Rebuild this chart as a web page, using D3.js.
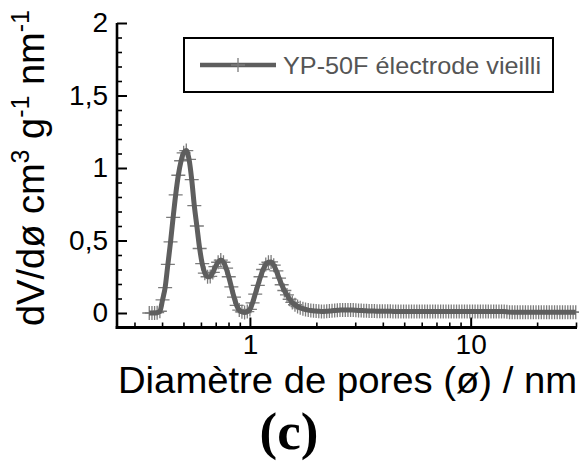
<!DOCTYPE html>
<html>
<head>
<meta charset="utf-8">
<script src="https://cdn.jsdelivr.net/npm/d3@7"></script>
<style>
html,body{margin:0;padding:0;background:#fff;}
svg{display:block;}
</style>
</head>
<body>
<svg id="chart" width="579" height="467"></svg>
<script>
// Pore diameter (nm)
const poreDiameter = [
 0.350,0.360,0.370,0.380,0.391,0.402,0.413,0.425,0.437,0.449,
 0.461,0.474,0.488,0.501,0.515,0.530,0.545,0.560,0.575,0.592,
 0.608,0.625,0.643,0.661,0.679,0.698,0.718,0.738,0.759,0.780,
 0.802,0.824,0.847,0.871,0.895,0.920,0.946,0.973,1.000,1.028,
 1.057,1.086,1.117,1.148,1.180,1.213,1.247,1.282,1.318,1.355,
 1.393,1.432,1.472,1.514,1.556,1.600,1.644,1.690,1.738,1.786,
 1.837,1.888,1.941,1.995,2.051,2.109,2.168,2.228,2.291,2.355,
 2.421,2.489,2.559,2.630,2.704,2.780,2.858,2.938,3.020,3.105,
 3.192,3.281,3.373,3.467,3.565,3.664,3.767,3.873,3.981,4.093,
 4.207,4.325,4.446,4.571,4.699,4.831,4.966,5.105,5.248,5.395,
 5.546,5.702,5.861,6.026,6.194,6.368,6.546,6.730,6.918,7.112,
 7.311,7.516,7.727,7.943,8.166,8.395,8.630,8.872,9.120,9.376,
 9.638,9.908,10.19,10.47,10.77,11.07,11.38,11.70,12.02,12.36,
 12.71,13.06,13.43,13.80,14.19,14.59,15.00,15.42,15.85,16.29,
 16.75,17.22,17.70,18.20,18.71,19.23,19.77,20.32,20.89,21.48,
 22.08,22.70,23.33,23.99,24.66,25.35,26.06,26.79,27.54,28.31,
 29.11,29.92
];
// dV/dø (cm3 g-1 nm-1) — YP-50F électrode vieilli
const dVdD = [
 0.000,0.000,0.000,0.002,0.012,0.090,0.175,0.335,0.490,0.660,
 0.815,0.950,1.050,1.105,1.120,1.060,0.920,0.740,0.600,0.445,
 0.340,0.275,0.250,0.252,0.280,0.320,0.350,0.365,0.350,0.310,
 0.250,0.180,0.110,0.052,0.020,0.008,0.003,0.010,0.025,0.070,
 0.130,0.190,0.250,0.300,0.335,0.350,0.352,0.330,0.290,0.240,
 0.195,0.155,0.125,0.095,0.073,0.057,0.045,0.036,0.029,0.024,
 0.020,0.017,0.015,0.013,0.012,0.011,0.011,0.012,0.013,0.015,
 0.017,0.019,0.020,0.021,0.021,0.021,0.020,0.020,0.019,0.018,
 0.017,0.016,0.015,0.014,0.013,0.013,0.012,0.012,0.012,0.012,
 0.012,0.012,0.011,0.011,0.011,0.011,0.011,0.011,0.011,0.011,
 0.011,0.011,0.011,0.011,0.011,0.011,0.011,0.011,0.011,0.011,
 0.011,0.011,0.011,0.011,0.011,0.011,0.011,0.011,0.011,0.011,
 0.011,0.011,0.011,0.011,0.011,0.011,0.011,0.011,0.011,0.011,
 0.011,0.011,0.011,0.011,0.010,0.008,0.006,0.005,0.005,0.005,
 0.005,0.005,0.005,0.005,0.005,0.005,0.005,0.005,0.005,0.005,
 0.005,0.005,0.005,0.005,0.005,0.005,0.005,0.005,0.005,0.005,
 0.005,0.005
];
const seriesName = "YP-50F électrode vieilli";
const yMajorTicks = [0, 0.5, 1, 1.5, 2];
const yTickLabels = ["0", "0,5", "1", "1,5", "2"];
const xMajorTicks = [1, 10];
const xTickLabels = ["1", "10"];
const xMinorTicks = [0.3,0.4,0.5,0.6,0.7,0.8,0.9,2,3,4,5,6,7,8,9,20,30];
const yMinorTicks = [0.1,0.2,0.3,0.4,0.6,0.7,0.8,0.9,1.1,1.2,1.3,1.4,1.6,1.7,1.8,1.9];

const data = poreDiameter.map((d, i) => ({x: d, y: dVdD[i]}));

const svg = d3.select("#chart");
const mLeft = 117, mRight = 576, mTop = 23, mBottom = 327.5;

const x = d3.scaleLog().domain([0.25, 30]).range([mLeft, mRight]);
const y = d3.scaleLinear().domain([-0.1, 2]).range([mBottom, mTop]);

const FONT = "'Liberation Sans', Arial, sans-serif";

// Y axis
const yMinor = svg.append("g").attr("transform", `translate(${mLeft},0)`)
  .call(d3.axisLeft(y).tickValues(yMinorTicks).tickSize(-5).tickFormat(""));
yMinor.select(".domain").remove();
yMinor.selectAll("line").attr("stroke", "#000").attr("stroke-width", 1.6);

const yMajor = svg.append("g").attr("transform", `translate(${mLeft},0)`)
  .call(d3.axisLeft(y).tickValues(yMajorTicks).tickSize(-10).tickPadding(9)
    .tickFormat((d, i) => yTickLabels[i]));
yMajor.select(".domain").remove();
yMajor.selectAll("line").attr("stroke", "#000").attr("stroke-width", 2);
yMajor.selectAll("text").attr("font-family", FONT).attr("font-size", 28).attr("fill", "#000");

// X axis
const xMinor = svg.append("g").attr("transform", `translate(0,${mBottom})`)
  .call(d3.axisBottom(x).tickValues(xMinorTicks).tickSize(-5).tickFormat(""));
xMinor.select(".domain").remove();
xMinor.selectAll("line").attr("stroke", "#000").attr("stroke-width", 1.6);

const xMajor = svg.append("g").attr("transform", `translate(0,${mBottom})`)
  .call(d3.axisBottom(x).tickValues(xMajorTicks).tickSize(-10).tickPadding(7)
    .tickFormat((d, i) => xTickLabels[i]));
xMajor.select(".domain").remove();
xMajor.selectAll("line").attr("stroke", "#000").attr("stroke-width", 2);
xMajor.selectAll("text").attr("font-family", FONT).attr("font-size", 28).attr("fill", "#000");

// spines
svg.append("line").attr("x1", mLeft).attr("x2", mLeft).attr("y1", mTop).attr("y2", mBottom + 1.5)
  .attr("stroke", "#000").attr("stroke-width", 2.6);
svg.append("line").attr("x1", mLeft - 1.3).attr("x2", mRight + 1).attr("y1", mBottom).attr("y2", mBottom)
  .attr("stroke", "#000").attr("stroke-width", 3);

// markers
const plusPath = "M-7,0H7M0,-7V7";
svg.append("g").selectAll("path").data(data).join("path")
  .attr("d", plusPath)
  .attr("transform", d => `translate(${x(d.x)},${y(d.y)})`)
  .attr("stroke", "#7c7c7c").attr("stroke-width", 1.3).attr("fill", "none");

// line
svg.append("path").datum(data)
  .attr("d", d3.line().x(d => x(d.x)).y(d => y(d.y)).curve(d3.curveMonotoneX))
  .attr("fill", "none").attr("stroke", "#5e5e5e").attr("stroke-width", 5)
  .attr("stroke-linejoin", "round");

// Legend
svg.append("rect").attr("x", 184).attr("y", 38).attr("width", 369).attr("height", 54)
  .attr("fill", "#fff").attr("stroke", "#000").attr("stroke-width", 2);
svg.append("line").attr("x1", 200).attr("x2", 276).attr("y1", 65).attr("y2", 65)
  .attr("stroke", "#5e5e5e").attr("stroke-width", 4.5);
svg.append("path").attr("d", plusPath).attr("transform", "translate(238,65)")
  .attr("stroke", "#7c7c7c").attr("stroke-width", 1.3).attr("fill", "none");
svg.append("text").attr("x", 283).attr("y", 74).text(seriesName)
  .attr("font-family", FONT).attr("font-size", 24).attr("fill", "#555")
  .attr("textLength", 258).attr("lengthAdjust", "spacingAndGlyphs");

// Axis titles
svg.append("text").attr("x", 118).attr("y", 393)
  .attr("font-family", FONT).attr("font-size", 36).attr("fill", "#000")
  .attr("textLength", 459).attr("lengthAdjust", "spacingAndGlyphs")
  .text("Diamètre de pores (ø) / nm");

const yt = svg.append("text").attr("transform", "translate(44,168) rotate(-90)")
  .attr("text-anchor", "middle").attr("font-family", FONT).attr("font-size", 38).attr("fill", "#000");
yt.append("tspan").text("dV/dø cm");
yt.append("tspan").attr("dy", -15).attr("font-size", 25).text("3");
yt.append("tspan").attr("dy", 15).text(" g");
yt.append("tspan").attr("dy", -15).attr("font-size", 25).text("-1");
yt.append("tspan").attr("dy", 15).text(" nm");
yt.append("tspan").attr("dy", -15).attr("font-size", 25).text("-1");

svg.append("text").attr("x", 289).attr("y", 449).attr("text-anchor", "middle")
  .attr("font-family", "'Liberation Serif', 'Times New Roman', serif").attr("font-weight", "bold")
  .attr("font-size", 53).attr("fill", "#000").text("(c)");
</script>
</body>
</html>
